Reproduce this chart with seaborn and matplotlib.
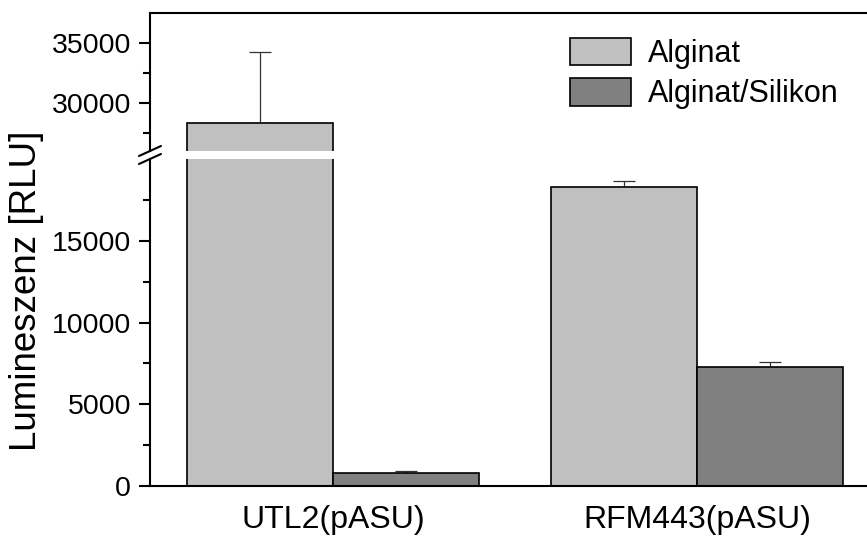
import matplotlib
matplotlib.use("Agg")
import matplotlib.pyplot as plt
from matplotlib.lines import Line2D
import pandas as pd
import seaborn as sns

# Werte
stämme = ["UTL2(pASU)", "RFM443(pASU)"]
matrix = ["Alginat", "Alginat/Silikon"]
alginat = [28360, 18300]
alginat_silikon = [810, 7300]
fehler_alginat = [5900, 340]
fehler_silikon = [100, 300]

df = pd.DataFrame({
    "stamm": stämme * 2,
    "matrix": [matrix[0]] * 2 + [matrix[1]] * 2,
    "rlu": alginat + alginat_silikon,
    "err": fehler_alginat + fehler_silikon,
})

sns.set_style("ticks")
plt.rcParams["font.family"] = ["Liberation Sans", "DejaVu Sans"]
plt.rcParams.update({"text.color": "black", "axes.labelcolor": "black",
                     "xtick.color": "black", "ytick.color": "black",
                     "axes.edgecolor": "black"})
farben = {"Alginat": "#c0c0c0", "Alginat/Silikon": "#808080"}

fig = plt.figure(figsize=(8.67, 5.37), dpi=100)
links, breite = 150 / 867, 1 - 150 / 867
ax_hi = fig.add_axes([links, 1 - 151 / 537, breite, (151 - 13) / 537])
ax_lo = fig.add_axes([links, 1 - 486 / 537, breite, (486 - 159) / 537])

for ax in (ax_hi, ax_lo):
    sns.barplot(data=df, x="stamm", y="rlu", hue="matrix", order=stämme,
                hue_order=matrix, palette=farben, errorbar=None,
                edgecolor="black", linewidth=1.2, ax=ax, legend=(ax is ax_hi))
    # nur obere Fehlerbalken
    for cont, lvl in zip(ax.containers, matrix):
        errs = df[df.matrix == lvl].set_index("stamm").loc[stämme, "err"].values
        xs = [b.get_x() + b.get_width() / 2 for b in cont]
        hs = [b.get_height() for b in cont]
        ax.errorbar(xs, hs, yerr=[[0] * len(errs), errs], fmt="none",
                    ecolor="#333333", elinewidth=0.9, capsize=8, capthick=0.9,
                    zorder=0.5)
    ax.set_xlim(-0.503, 1.467)
    ax.set_xlabel("")
    ax.set_ylabel("")
    ax.spines["right"].set_visible(False)
    for s in ax.spines.values():
        s.set_linewidth(1.5)
    ax.tick_params(axis="y", which="major", length=8, width=1.5, labelsize=20.5, pad=5.5)
    ax.tick_params(axis="y", which="minor", length=5, width=1.5)
    ax.tick_params(axis="x", length=0)

ax_hi.set_ylim(26000, 37500)
ax_hi.set_yticks([30000, 35000])
ax_hi.set_yticks([27500, 32500], minor=True)
ax_hi.spines["bottom"].set_visible(False)
ax_hi.set_xticklabels([])

ax_lo.set_ylim(0, 20000)
ax_lo.set_yticks([0, 5000, 10000, 15000])
ax_lo.set_yticks([2500, 7500, 12500, 17500], minor=True)
ax_lo.spines["top"].set_visible(False)
ax_lo.tick_params(axis="x", labelsize=23, pad=14)

# Achsenbruch
for yp in (151, 159):
    fig.add_artist(Line2D([139 / 867, 161 / 867],
                          [1 - (yp + 5) / 537, 1 - (yp - 5) / 537],
                          color="black", lw=1.5, transform=fig.transFigure))

fig.text(27 / 867, 1 - 291 / 537, "Lumineszenz [RLU]", rotation=90,
         ha="center", va="center", fontsize=26.5)

ax_hi.legend(loc="upper left", bbox_to_anchor=(570 / 867, 1 - 38 / 537),
             bbox_transform=fig.transFigure, frameon=False, fontsize=22,
             handlelength=2.0, handleheight=1.0, handletextpad=0.55,
             labelspacing=0.3, borderpad=0, borderaxespad=0)

fig.savefig("out.png", dpi=100)
